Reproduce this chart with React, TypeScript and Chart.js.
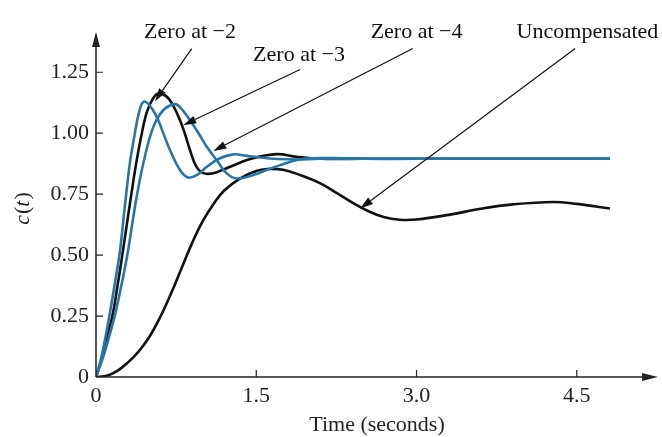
import React, { useEffect, useRef } from "react";
import { Chart, registerables } from "chart.js";

Chart.register(...registerables);

// ---- axis ticks ----
const xTickValues = [0, 1.5, 3.0, 4.5];
const xTickLabels = ["0", "1.5", "3.0", "4.5"];
const yTickValues = [0, 0.25, 0.5, 0.75, 1.0, 1.25];
const yTickLabels = ["0", "0.25", "0.50", "0.75", "1.00", "1.25"];
const X_MAX = 5.26;
const Y_MAX = 1.415;

// ---- series: Uncompensated (black, slow) ----
const uncompT = [0, 0.1, 0.2, 0.3, 0.4, 0.5, 0.6, 0.7, 0.8, 0.9, 1.0, 1.1, 1.2, 1.35, 1.5, 1.6, 1.75, 1.9, 2.1, 2.25, 2.4, 2.55, 2.7, 2.84, 3.0, 3.3, 3.6, 3.9, 4.28, 4.5, 4.81];
const uncompV = [0, 0.005, 0.025, 0.06, 0.105, 0.165, 0.245, 0.34, 0.445, 0.55, 0.64, 0.71, 0.765, 0.815, 0.845, 0.853, 0.85, 0.83, 0.794, 0.755, 0.715, 0.68, 0.655, 0.645, 0.646, 0.665, 0.69, 0.708, 0.718, 0.71, 0.691];

// ---- series: black, largest overshoot ----
const blackT = [0, 0.05, 0.1, 0.153, 0.2, 0.246, 0.29, 0.331, 0.37, 0.42, 0.475, 0.53, 0.583, 0.662, 0.72, 0.78, 0.83, 0.88, 0.92, 0.96, 1.0, 1.05, 1.13, 1.255, 1.45, 1.692, 1.879, 2.1, 2.5, 3.0, 3.5, 4.0, 4.5, 4.81];
const blackV = [0, 0.07, 0.16, 0.25, 0.37, 0.5, 0.63, 0.75, 0.86, 0.98, 1.085, 1.14, 1.163, 1.15, 1.115, 1.06, 1.0, 0.93, 0.88, 0.85, 0.837, 0.833, 0.84, 0.862, 0.895, 0.914, 0.903, 0.895, 0.895, 0.895, 0.895, 0.895, 0.895, 0.895];

// ---- series: blue, fastest ----
const blueFastT = [0, 0.05, 0.1, 0.125, 0.175, 0.225, 0.27, 0.318, 0.36, 0.4, 0.443, 0.5, 0.568, 0.63, 0.693, 0.787, 0.864, 0.95, 1.037, 1.15, 1.286, 1.4, 1.536, 1.7, 1.879, 2.1, 2.5, 3.0, 3.5, 4.0, 4.5, 4.81];
const blueFastV = [0, 0.08, 0.19, 0.25, 0.38, 0.52, 0.7, 0.88, 0.99, 1.08, 1.128, 1.115, 1.067, 1.0, 0.93, 0.848, 0.818, 0.83, 0.862, 0.895, 0.913, 0.908, 0.9, 0.894, 0.892, 0.895, 0.895, 0.895, 0.895, 0.895, 0.895, 0.895];

// ---- series: blue, slower ----
const blueSlowT = [0, 0.05, 0.1, 0.175, 0.235, 0.293, 0.34, 0.381, 0.45, 0.537, 0.63, 0.74, 0.8, 0.88, 0.96, 1.037, 1.13, 1.224, 1.317, 1.473, 1.6, 1.723, 1.879, 2.0, 2.2, 2.5, 3.0, 3.5, 4.0, 4.5, 4.81];
const blueSlowV = [0, 0.06, 0.13, 0.25, 0.37, 0.5, 0.63, 0.74, 0.89, 1.026, 1.094, 1.119, 1.1, 1.053, 1.0, 0.944, 0.889, 0.835, 0.814, 0.828, 0.85, 0.869, 0.89, 0.897, 0.898, 0.895, 0.895, 0.895, 0.895, 0.895, 0.895];

// ---- annotations (data coordinates) ----
const noteTexts = ["Zero at \u22122", "Zero at \u22123", "Zero at \u22124", "Uncompensated"];
const noteAt = [[0.88, 1.414], [1.9, 1.32], [3.0, 1.414], [4.6, 1.414]];
const arrowFrom = [[0.896, 1.347], [1.91, 1.261], [2.965, 1.347], [4.485, 1.347]];
const arrowTo = [[0.552, 1.131], [0.817, 1.033], [1.098, 0.927], [2.472, 0.691]];

const FONT = '"Liberation Serif", "Times New Roman", serif';
const FS = 22;
const BLUE = "#2676ab";
const BLACK = "#111111";

const toPts = (t: number[], v: number[]) => t.map((tt, i) => ({ x: tt, y: v[i] }));

const decorPlugin = {
  id: "decor",
  afterDraw(chart: any) {
    const { ctx, chartArea, scales } = chart;
    const { left, right, top, bottom } = chartArea;
    const xs = scales.x;
    const ys = scales.y;
    ctx.save();
    // axes
    ctx.strokeStyle = "#222";
    ctx.fillStyle = "#222";
    ctx.lineWidth = 1.5;
    ctx.beginPath();
    ctx.moveTo(left, bottom);
    ctx.lineTo(right - 12, bottom);
    ctx.moveTo(left, bottom);
    ctx.lineTo(left, top + 12);
    ctx.stroke();
    // arrowheads
    ctx.beginPath();
    ctx.moveTo(right, bottom);
    ctx.lineTo(right - 16, bottom - 4);
    ctx.lineTo(right - 16, bottom + 4);
    ctx.closePath();
    ctx.fill();
    ctx.beginPath();
    ctx.moveTo(left, top);
    ctx.lineTo(left - 4, top + 15);
    ctx.lineTo(left + 4, top + 15);
    ctx.closePath();
    ctx.fill();
    // inner tick marks
    ctx.lineWidth = 1.2;
    ctx.beginPath();
    xTickValues.forEach((v) => {
      if (v === 0) return;
      const px = xs.getPixelForValue(v);
      ctx.moveTo(px, bottom);
      ctx.lineTo(px, bottom - 7);
    });
    yTickValues.forEach((v) => {
      if (v === 0) return;
      const py = ys.getPixelForValue(v);
      ctx.moveTo(left, py);
      ctx.lineTo(left + 7, py);
    });
    ctx.stroke();

    // annotations
    ctx.strokeStyle = BLACK;
    ctx.fillStyle = BLACK;
    ctx.lineWidth = 1.2;
    for (let i = 0; i < noteTexts.length; i++) {
      const fx = xs.getPixelForValue(arrowFrom[i][0]);
      const fy = ys.getPixelForValue(arrowFrom[i][1]);
      const tx = xs.getPixelForValue(arrowTo[i][0]);
      const ty = ys.getPixelForValue(arrowTo[i][1]);
      const ang = Math.atan2(ty - fy, tx - fx);
      const L = 13;
      const W = 4;
      const bx = tx - L * Math.cos(ang);
      const by = ty - L * Math.sin(ang);
      ctx.beginPath();
      ctx.moveTo(fx, fy);
      ctx.lineTo(bx, by);
      ctx.stroke();
      ctx.beginPath();
      ctx.moveTo(tx, ty);
      ctx.lineTo(bx + W * Math.sin(ang), by - W * Math.cos(ang));
      ctx.lineTo(bx - W * Math.sin(ang), by + W * Math.cos(ang));
      ctx.closePath();
      ctx.fill();

      ctx.font = `${FS}px ${FONT}`;
      ctx.textAlign = "center";
      ctx.textBaseline = "middle";
      ctx.fillText(noteTexts[i], xs.getPixelForValue(noteAt[i][0]), ys.getPixelForValue(noteAt[i][1]));
    }

    // y title c(t)
    const parts: [string, boolean][] = [["c", true], ["(", false], ["t", true], [")", false]];
    ctx.translate(23, (top + bottom) / 2 + 4);
    ctx.rotate(-Math.PI / 2);
    ctx.textAlign = "left";
    ctx.textBaseline = "middle";
    ctx.fillStyle = "#222";
    let total = 0;
    const widths = parts.map(([s, it]) => {
      ctx.font = `${it ? "italic " : ""}${FS}px ${FONT}`;
      const w = ctx.measureText(s).width + (it ? 1 : 0);
      total += w;
      return w;
    });
    let cx = -total / 2;
    parts.forEach(([s, it], i) => {
      ctx.font = `${it ? "italic " : ""}${FS}px ${FONT}`;
      ctx.fillText(s, cx, 0);
      cx += widths[i];
    });
    ctx.restore();
  },
};

export default function App() {
  const ref = useRef<HTMLCanvasElement | null>(null);
  useEffect(() => {
    if (!ref.current) return;
    const lineDs = (t: number[], v: number[], color: string) => ({
      data: toPts(t, v),
      borderColor: color,
      borderWidth: 2.6,
      pointRadius: 0,
      fill: false,
      tension: 0.4,
    });
    const chart = new Chart(ref.current, {
      type: "line",
      data: {
        datasets: [
          lineDs(blueFastT, blueFastV, BLUE),
          lineDs(blueSlowT, blueSlowV, BLUE),
          lineDs(blackT, blackV, BLACK),
          lineDs(uncompT, uncompV, BLACK),
        ],
      },
      options: {
        animation: false,
        responsive: false,
        devicePixelRatio: 1,
        events: [],
        layout: { padding: { top: 32, right: 4, left: 0, bottom: 0 } },
        plugins: { legend: { display: false }, tooltip: { enabled: false } },
        scales: {
          x: {
            type: "linear",
            min: 0,
            max: X_MAX,
            afterBuildTicks: (s: any) => {
              s.ticks = xTickValues.map((v) => ({ value: v }));
            },
            afterFit: (s: any) => {
              s.height = 60;
            },
            ticks: {
              autoSkip: false,
              maxRotation: 0,
              padding: 6,
              color: "#222",
              font: { family: FONT, size: FS },
              callback: (v: any) => {
                const i = xTickValues.indexOf(Number(v));
                return i >= 0 ? xTickLabels[i] : "";
              },
            },
            grid: { display: false, drawTicks: false },
            border: { display: false },
            title: {
              display: true,
              text: "Time (seconds)",
              color: "#222",
              font: { family: FONT, size: FS, lineHeight: 1.05 },
              padding: 0,
            },
          },
          y: {
            type: "linear",
            min: 0,
            max: Y_MAX,
            afterBuildTicks: (s: any) => {
              s.ticks = yTickValues.map((v) => ({ value: v }));
            },
            afterFit: (s: any) => {
              s.width = 96;
            },
            ticks: {
              autoSkip: false,
              padding: 7,
              color: "#222",
              font: { family: FONT, size: FS },
              callback: (v: any) => {
                const i = yTickValues.indexOf(Number(v));
                return i >= 0 ? yTickLabels[i] : "";
              },
            },
            grid: { display: false, drawTicks: false },
            border: { display: false },
          },
        },
      },
      plugins: [decorPlugin],
    });
    return () => chart.destroy();
  }, []);
  return (
    <div style={{ position: "absolute", left: 0, top: 0, width: 662, height: 437, background: "#fff" }}>
      <canvas ref={ref} width={662} height={437} style={{ width: 662, height: 437, display: "block" }} />
    </div>
  );
}
